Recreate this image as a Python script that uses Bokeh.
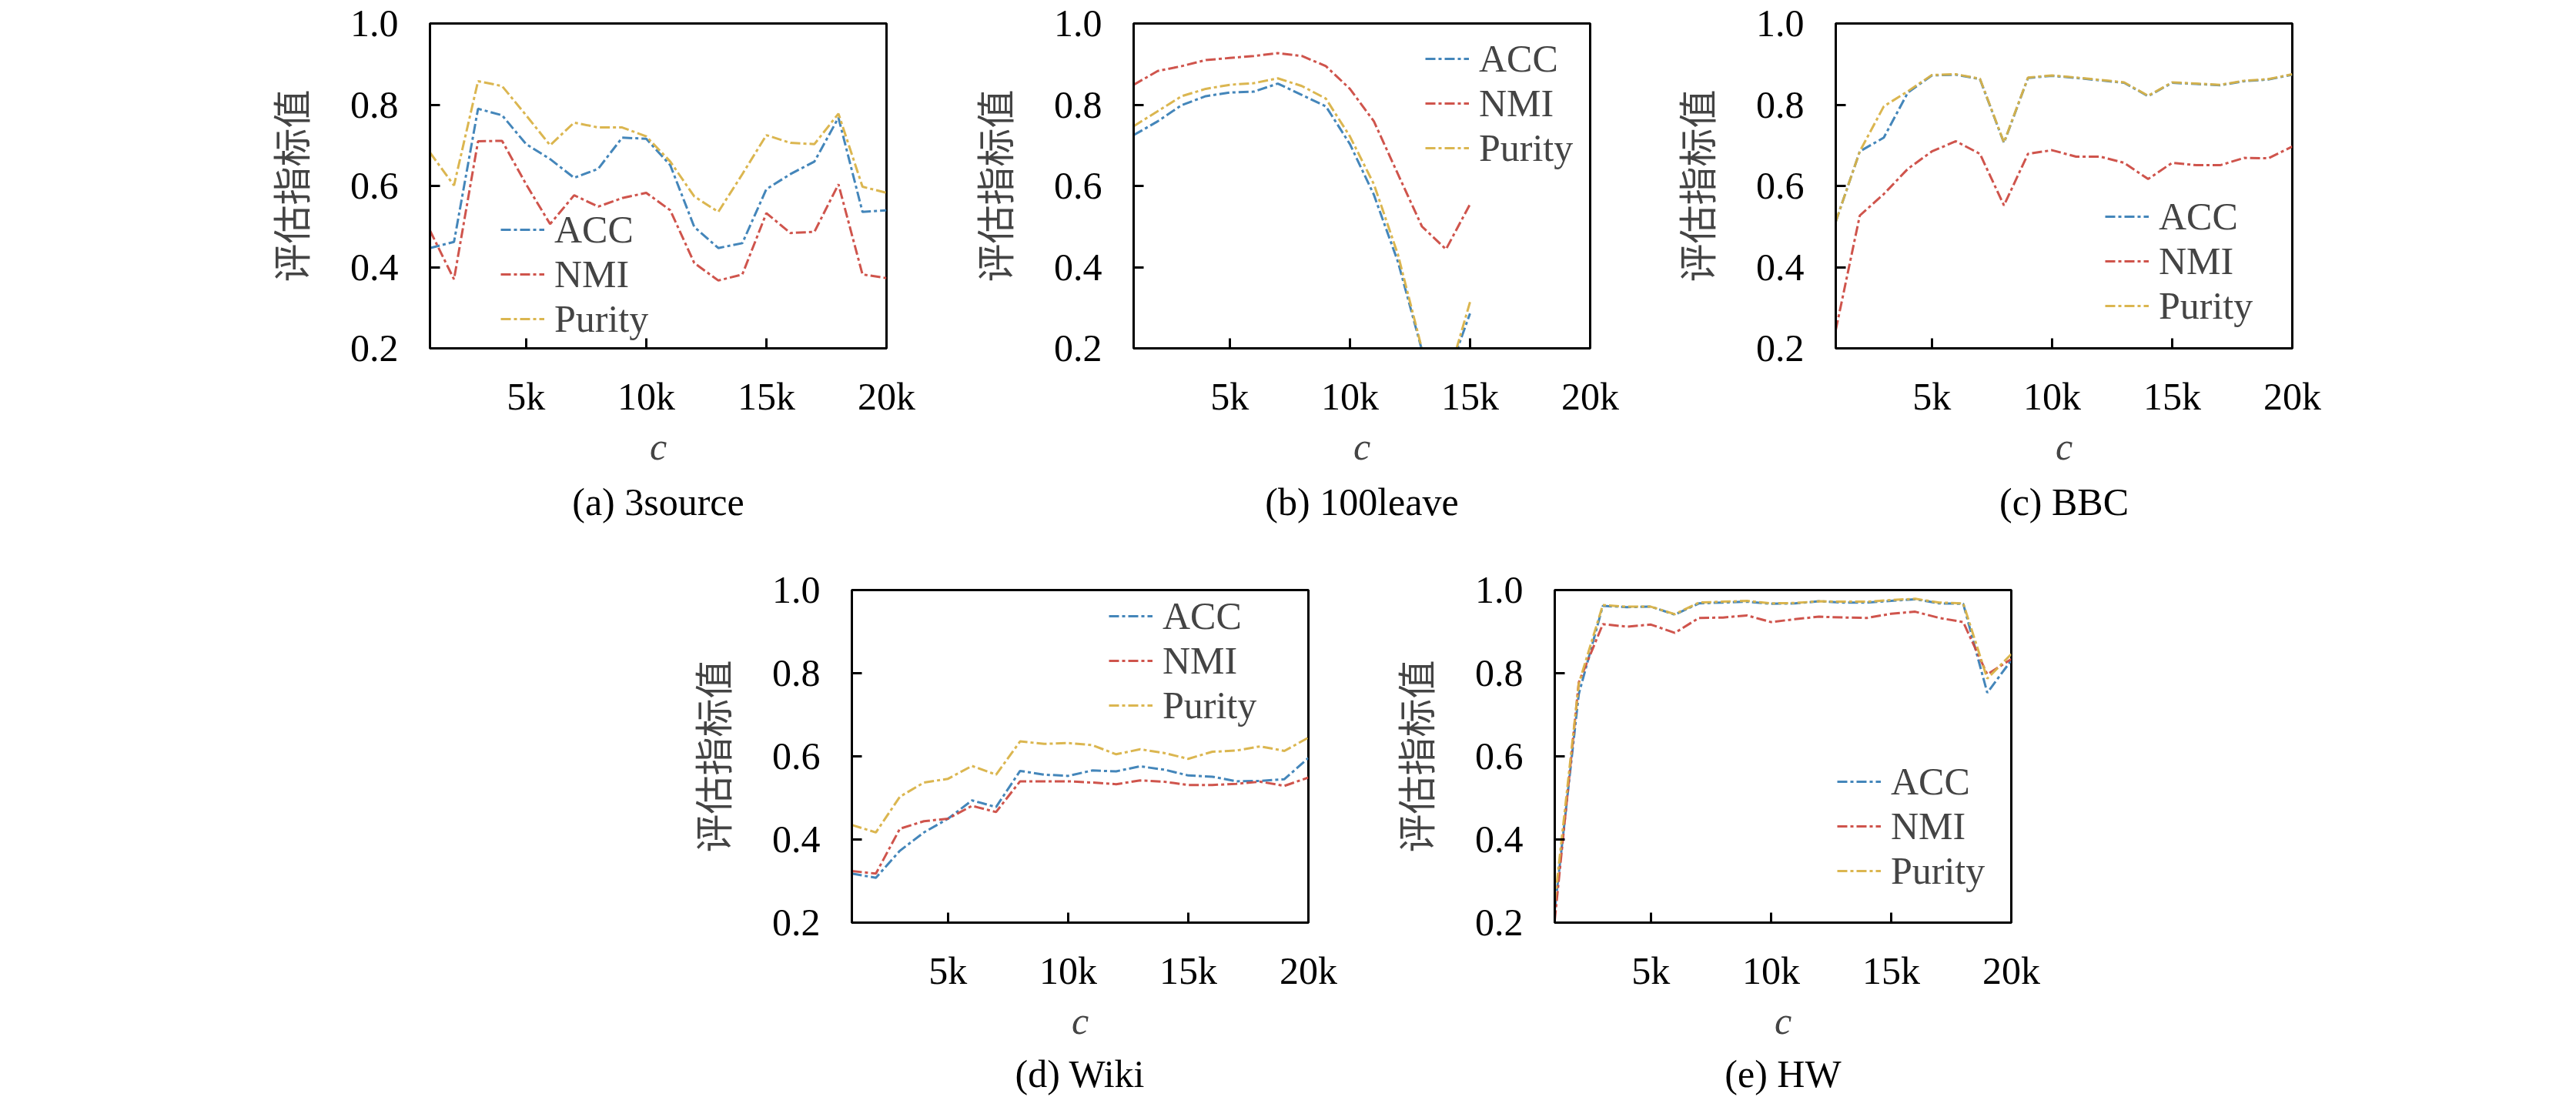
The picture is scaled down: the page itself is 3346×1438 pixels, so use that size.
from bokeh.plotting import figure
from bokeh.models import Range1d, FixedTicker, Title, Spacer
from bokeh.layouts import row, column
from bokeh.embed import file_html
from bokeh.resources import INLINE

# ---------------- data ----------------
c_values = [1000, 2000, 3000, 4000, 5000, 6000, 7000, 8000, 9000, 10000,
            11000, 12000, 13000, 14000, 15000, 16000, 17000, 18000, 19000, 20000]
c_values_100leave = [1000, 2000, 3000, 4000, 5000, 6000, 7000, 8000, 9000, 10000,
                     11000, 12000, 13000, 14000, 15000]

x_ticks = [5000, 10000, 15000, 20000]
x_tick_labels = ["5k", "10k", "15k", "20k"]
y_ticks = [0.2, 0.4, 0.6, 0.8, 1.0]
y_tick_labels = ["0.2", "0.4", "0.6", "0.8", "1.0"]

series_names = ["ACC", "NMI", "Purity"]

acc_3source = [0.447, 0.462, 0.790, 0.774, 0.703, 0.666, 0.620, 0.642, 0.719, 0.716,
               0.651, 0.499, 0.447, 0.459, 0.592, 0.629, 0.660, 0.768, 0.536, 0.540]
nmi_3source = [0.490, 0.370, 0.710, 0.711, 0.604, 0.506, 0.577, 0.549, 0.570, 0.583,
               0.540, 0.410, 0.367, 0.382, 0.533, 0.484, 0.487, 0.604, 0.382, 0.373]
pur_3source = [0.682, 0.601, 0.858, 0.846, 0.774, 0.700, 0.756, 0.744, 0.744, 0.722,
               0.660, 0.574, 0.536, 0.629, 0.725, 0.706, 0.703, 0.778, 0.598, 0.583]

acc_100leave = [0.725, 0.759, 0.799, 0.821, 0.830, 0.832, 0.852, 0.824, 0.796, 0.703,
                0.578, 0.413, 0.195, 0.120, 0.286]
nmi_100leave = [0.849, 0.883, 0.895, 0.910, 0.915, 0.920, 0.927, 0.920, 0.895, 0.839,
                0.759, 0.629, 0.500, 0.444, 0.555]
pur_100leave = [0.747, 0.784, 0.821, 0.839, 0.849, 0.853, 0.865, 0.846, 0.815, 0.722,
                0.604, 0.431, 0.198, 0.110, 0.314]

acc_bbc = [0.512, 0.685, 0.719, 0.830, 0.872, 0.874, 0.863, 0.706, 0.866, 0.871,
           0.866, 0.860, 0.854, 0.821, 0.854, 0.851, 0.848, 0.858, 0.862, 0.874]
nmi_bbc = [0.245, 0.527, 0.580, 0.642, 0.685, 0.710, 0.679, 0.552, 0.679, 0.688,
           0.672, 0.672, 0.657, 0.617, 0.657, 0.651, 0.651, 0.669, 0.668, 0.697]
pur_bbc = [0.512, 0.685, 0.796, 0.833, 0.873, 0.875, 0.864, 0.707, 0.867, 0.872,
           0.867, 0.861, 0.855, 0.822, 0.855, 0.852, 0.849, 0.859, 0.863, 0.875]

acc_wiki = [0.318, 0.308, 0.373, 0.417, 0.450, 0.494, 0.478, 0.565, 0.556, 0.553,
            0.566, 0.564, 0.576, 0.568, 0.554, 0.551, 0.540, 0.541, 0.545, 0.596]
nmi_wiki = [0.324, 0.318, 0.426, 0.444, 0.450, 0.481, 0.466, 0.540, 0.540, 0.540,
            0.537, 0.533, 0.542, 0.539, 0.531, 0.531, 0.534, 0.539, 0.529, 0.549]
pur_wiki = [0.435, 0.417, 0.503, 0.537, 0.546, 0.577, 0.556, 0.636, 0.630, 0.632,
            0.627, 0.605, 0.617, 0.608, 0.594, 0.611, 0.614, 0.624, 0.613, 0.645]

acc_hw = [0.230, 0.750, 0.962, 0.959, 0.960, 0.941, 0.968, 0.970, 0.972, 0.967,
          0.968, 0.973, 0.970, 0.970, 0.974, 0.978, 0.968, 0.967, 0.753, 0.831]
nmi_hw = [0.206, 0.778, 0.918, 0.912, 0.917, 0.897, 0.933, 0.934, 0.939, 0.923,
          0.930, 0.936, 0.934, 0.933, 0.943, 0.948, 0.933, 0.923, 0.797, 0.834]
pur_hw = [0.250, 0.775, 0.964, 0.960, 0.960, 0.942, 0.970, 0.972, 0.974, 0.968,
          0.969, 0.973, 0.972, 0.972, 0.976, 0.979, 0.970, 0.968, 0.787, 0.846]

captions = ["(a) 3source", "(b) 100leave", "(c) BBC", "(d) Wiki", "(e) HW"]
y_title = "评估指标值"
x_title = "c"

# ---------------- style ----------------
COLORS = ["#3a7fb6", "#cc4b42", "#d9b247"]
SERIF = "Liberation Serif"
CJK = "Noto Sans CJK SC"
FS = "50px"

FRAME_W = 593
BL = 210


def make_panel(xs, acc, nmi, pur, caption, leg_xy, width, fh, bt, bb, cap_standoff):
    p = figure(frame_width=FRAME_W, frame_height=fh,
               x_range=Range1d(1000, 20000), y_range=Range1d(0.2, 1.0),
               output_backend="svg", toolbar_location=None,
               min_border_left=BL, min_border_right=width - BL - FRAME_W,
               min_border_top=bt, min_border_bottom=bb)
    p.xgrid.visible = False
    p.ygrid.visible = False
    p.outline_line_color = "black"
    p.outline_line_width = 3
    p.outline_line_alpha = 1.0

    for ax in (p.xaxis[0], p.yaxis[0]):
        ax.axis_line_width = 3
        ax.major_tick_in = 13
        ax.major_tick_out = 0
        ax.major_tick_line_width = 3
        ax.minor_tick_line_color = None
        ax.major_label_text_font = SERIF
        ax.major_label_text_font_size = FS
        ax.major_label_text_color = "black"

    p.xaxis.ticker = FixedTicker(ticks=x_ticks)
    p.xaxis.major_label_overrides = {t: l for t, l in zip(x_ticks, x_tick_labels)}
    p.xaxis.major_label_standoff = 34
    p.xaxis.axis_label = x_title
    p.xaxis.axis_label_text_font = SERIF
    p.xaxis.axis_label_text_font_style = "italic"
    p.xaxis.axis_label_text_font_size = FS
    p.xaxis.axis_label_standoff = 6

    p.yaxis.ticker = FixedTicker(ticks=y_ticks)
    p.yaxis.major_label_overrides = {t: l for t, l in zip(y_ticks, y_tick_labels)}
    p.yaxis.major_label_standoff = 41
    p.yaxis.axis_label = y_title
    p.yaxis.axis_label_text_font = CJK
    p.yaxis.axis_label_text_font_style = "normal"
    p.yaxis.axis_label_text_font_size = "50px"
    p.yaxis.axis_label_standoff = 40

    for ys, name, col in zip([acc, nmi, pur], series_names, COLORS):
        p.line(xs, ys, line_color=col, line_width=3, line_dash="13 4 4 4",
               line_alpha=0.95, legend_label=name)

    lg = p.legend[0]
    lg.location = leg_xy
    lg.label_text_font = SERIF
    lg.label_text_font_size = FS
    lg.glyph_width = 57
    lg.glyph_height = 20
    lg.label_height = 57
    lg.spacing = 0
    lg.padding = 0
    lg.margin = 0
    lg.label_standoff = 13
    lg.border_line_alpha = 0
    lg.background_fill_alpha = 0

    p.add_layout(Title(text=caption, align="center", text_font=SERIF,
                       text_font_size=FS, text_font_style="normal",
                       text_color="black", standoff=cap_standoff), "below")
    return p


TOP_FH, TOP_BT, TOP_BB = 422, 30, 284
BOT_FH, BOT_BT, BOT_BB = 432, 30, 224

pa = make_panel(c_values, acc_3source, nmi_3source, pur_3source, captions[0],
                (92, 9), 902, TOP_FH, TOP_BT, TOP_BB, 23)
pb = make_panel(c_values_100leave, acc_100leave, nmi_100leave, pur_100leave, captions[1],
                (379, 231), 900, TOP_FH, TOP_BT, TOP_BB, 23)
pc = make_panel(c_values, acc_bbc, nmi_bbc, pur_bbc, captions[2],
                (350, 26), 900, TOP_FH, TOP_BT, TOP_BB, 23)
pd = make_panel(c_values, acc_wiki, nmi_wiki, pur_wiki, captions[3],
                (334, 253), 901, BOT_FH, BOT_BT, BOT_BB, 16)
pe = make_panel(c_values, acc_hw, nmi_hw, pur_hw, captions[4],
                (367, 38), 901, BOT_FH, BOT_BT, BOT_BB, 16)

layout = column(
    row(Spacer(width=554 - 8 - BL, height=10), pa, pb, pc),
    row(Spacer(width=1102 - 8 - BL, height=10), pd, pe),
)

open("out.html", "w").write(file_html(layout, INLINE))
